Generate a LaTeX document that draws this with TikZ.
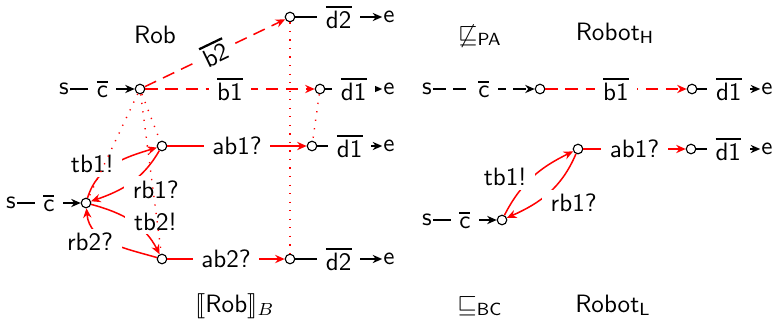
\documentclass[tikz,border=0pt]{standalone}
\usepackage{amsmath}
\usepackage{amssymb}
\usepackage{stmaryrd}
\usetikzlibrary{arrows.meta}
\newcommand{\act}[1]{\vbox{\hrule height 0.9pt\kern 1.1pt\hbox{#1}}}
\tikzset{
  every picture/.style={
    font=\sffamily,
    line join=round,
    >={Stealth[length=3.8pt,width=3.3pt]},   % one arrow tip everywhere
  },
  state/.style={circle, draw, line width=0.45pt, inner sep=0pt, minimum size=3.8pt},
  term/.style={inner sep=0.3pt},
  lbl/.style={fill=white, text=black, inner xsep=3.4pt, inner ysep=1.6pt},
  plain/.style={line width=0.45pt},
  redmove/.style={red, line width=0.6pt},
  tauline/.style={redmove, dash pattern=on 5pt off 3pt},
  corr/.style={red, line width=0.55pt, dash pattern=on 0.5pt off 2.9pt},
}

\begin{document}
\begin{tikzpicture}[x=0.14mm, y=0.14mm]
    \useasboundingbox (0,0) rectangle (775,327);

    % Left: Rob and its semantics
    \begin{scope}
        \node[state] (A)  at (140,238) {};
        \node[state] (T2) at (290,310) {};
        \node[state] (B1) at (320,238) {};
        \node[state] (C)  at (86,124) {};
        \node[state] (D1) at (162,181) {};
        \node[state] (E1) at (312,181) {};
        \node[state] (D2) at (162,68) {};
        \node[state] (E2) at (290,68) {};
        \node[term] (sA) at (64,238) {s};
        \node[term] (sC) at (11,124) {s};
        \foreach \n/\y in {T2/310, B1/238, E1/181, E2/68}
            \node[term] (e\n) at (389,\y) {e};

        \draw[plain,->] (sA) -- node[lbl] {\act{c}} (A);
        \draw[plain,->] (sC) -- node[lbl] {\act{c}} (C);
        \draw[tauline,->] (A) -- node[lbl, sloped] {\act{b2}} (T2);
        \draw[tauline,->] (A) -- node[lbl] {\act{b1}} (B1);
        \draw[redmove,->] (D1) -- node[lbl] {ab1?} (E1);
        \draw[redmove,->] (D2) -- node[lbl] {ab2?} (E2);
        \foreach \n/\d in {T2/d2, B1/d1, E1/d1, E2/d2}
            \draw[plain,->] (\n) -- node[lbl] {\act{\d}} (e\n);

        \draw[redmove,->] (C) to[out=73,in=197] node[lbl, xshift=-8.6pt] {tb1!} (D1);
        \draw[redmove,->] (D1) to[out=240,in=19] node[lbl, xshift=10pt, yshift=-2.7pt] {rb1?} (C);
        \draw[redmove,->] (C) to[out=345,in=117] node[lbl, xshift=9.4pt] {tb2!} (D2);
        \draw[redmove,->] (D2) to[out=164,in=275] node[lbl, xshift=-8.2pt] {rb2?} (C);

        \foreach \a/\b in {A/C, A/D1, A/D2, T2/E2, B1/E1}
            \draw[corr] (\a) -- (\b);

        \node[anchor=base] (rob) at (155,284) {Rob};
        \node[anchor=base] (sem) at (235,15) {$\llbracket\textsf{Rob}\rrbracket_B$};
    \end{scope}

    % Right: the two robots
    \begin{scope}
        \node[state] (R1) at (540,238) {};
        \node[state] (R2) at (692,238) {};
        \node[state] (P1) at (502,107) {};
        \node[state] (P2) at (578,178) {};
        \node[state] (P3) at (691,178) {};
        \node[term] (sR) at (427,238) {s};
        \node[term] (sP) at (427,107) {s};
        \node[term] (eR) at (767,238) {e};
        \node[term] (eP) at (767,178) {e};

        \draw[plain, dash pattern=on 5pt off 3pt,->] (sR) -- node[lbl] {\act{c}} (R1);
        \draw[tauline,->] (R1) -- node[lbl] {\act{b1}} (R2);
        \draw[plain,->] (R2) -- node[lbl] {\act{d1}} (eR);
        \draw[plain,->] (sP) -- node[lbl] {\act{c}} (P1);
        \draw[redmove,->] (P2) -- node[lbl] {ab1?} (P3);
        \draw[plain,->] (P3) -- node[lbl] {\act{d1}} (eP);
        \draw[redmove,->] (P1) to[out=63,in=206] node[lbl, xshift=-11pt] {tb1!} (P2);
        \draw[redmove,->] (P2) to[out=247,in=24] node[lbl, xshift=10pt, yshift=-4pt] {rb1?} (P1);

        \node[anchor=base] (npa)  at (480,285) {$\not\sqsubseteq_{\mathsf{PA}}$};
        \node[anchor=base] (bc)   at (480,15) {$\sqsubseteq_{\mathsf{BC}}$};
        \node[anchor=base] (robh) at (615,287) {Robot$_{\mathsf{H}}$};
        \node[anchor=base] (robl) at (613,15) {Robot$_{\mathsf{L}}$};
    \end{scope}
\end{tikzpicture}
\end{document}
